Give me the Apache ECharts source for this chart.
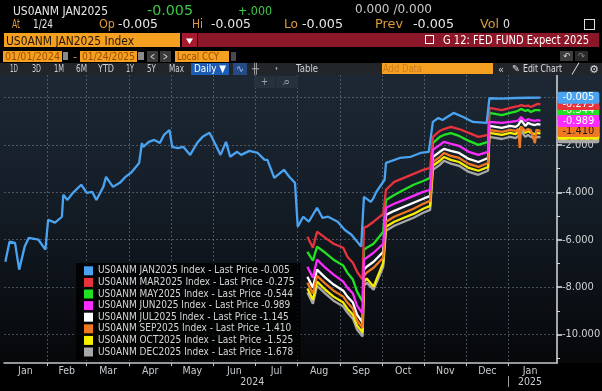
<!DOCTYPE html>
<html><head><meta charset="utf-8">
<script src="https://cdn.jsdelivr.net/npm/echarts@6/dist/echarts.min.js"></script>
<style>
html,body{margin:0;padding:0;background:#000;}
#wrap{position:relative;width:602px;height:391px;overflow:hidden;background:#000;}
#plotbg{position:absolute;left:0;top:75px;width:602px;height:288px;background:linear-gradient(to bottom,#1d2834 0%,#151e28 40%,#0b0f14 80%,#06080a 100%);}
#chart{position:absolute;left:0;top:0;width:602px;height:391px;}
#hdr{position:absolute;left:0;top:0;width:602px;height:391px;pointer-events:none;}
.b{position:absolute;}
.t{position:absolute;white-space:nowrap;transform-origin:0 50%;line-height:1;font-family:'DejaVu Sans',sans-serif;}
</style></head>
<body><div id="wrap"><div id="plotbg"></div><div id="chart"></div><div id="hdr"></div></div>
<script>
// ---------------- DATA ----------------
const contracts = ['JAN2025','MAR2025','MAY2025','JUN2025','JUL2025','SEP2025','OCT2025','DEC2025'];
const lastPrices = ['-0.005','-0.275','-0.544','-0.989','-1.145','-1.410','-1.525','-1.678'];
const monthLabels = ['Jan','Feb','Mar','Apr','May','Jun','Jul','Aug','Sep','Oct','Nov','Dec','Jan'];
const yearLabels = ['2024','2025'];
const monthBoundaries = ['2024-01-01','2024-02-01','2024-03-01','2024-04-01','2024-05-01','2024-06-01','2024-07-01','2024-08-01','2024-09-01','2024-10-01','2024-11-01','2024-12-01','2025-01-01','2025-02-01'];
const yTickValues = [-10,-8,-6,-4,-2];

const jan25Dates = ['2024-01-02','2024-01-05','2024-01-09','2024-01-12','2024-01-16','2024-01-19','2024-01-26','2024-01-31','2024-02-02','2024-02-07','2024-02-12','2024-02-13','2024-02-16','2024-02-20','2024-02-26','2024-03-01','2024-03-05','2024-03-08','2024-03-13','2024-03-15','2024-03-20','2024-03-25','2024-03-29','2024-04-02','2024-04-05','2024-04-08','2024-04-10','2024-04-11','2024-04-15','2024-04-19','2024-04-23','2024-04-26','2024-04-30','2024-05-02','2024-05-06','2024-05-10','2024-05-15','2024-05-20','2024-05-24','2024-05-29','2024-05-31','2024-06-06','2024-06-10','2024-06-13','2024-06-18','2024-06-21','2024-06-27','2024-07-03','2024-07-08','2024-07-10','2024-07-15','2024-07-22','2024-07-26','2024-07-30','2024-08-01','2024-08-05','2024-08-09','2024-08-15','2024-08-19','2024-08-23','2024-08-30','2024-09-04','2024-09-09','2024-09-16','2024-09-18','2024-09-23','2024-09-25','2024-09-27','2024-10-03','2024-10-04','2024-10-14','2024-10-22','2024-10-29','2024-11-04','2024-11-07','2024-11-11','2024-11-14','2024-11-22','2024-11-29','2024-12-06','2024-12-16','2024-12-18','2024-12-27','2025-01-06','2025-01-15','2025-01-24'];
const jan25 = [-6.93,-6.08,-6.13,-7.26,-6.29,-5.92,-6.00,-6.42,-5.16,-5.28,-5.03,-4.10,-4.32,-4.02,-3.68,-4.02,-3.98,-4.32,-3.77,-3.35,-3.77,-3.60,-3.35,-3.18,-2.97,-2.76,-1.92,-2.08,-1.87,-1.79,-1.92,-1.58,-1.37,-2.08,-2.13,-2.08,-2.42,-1.92,-1.66,-1.49,-1.71,-2.42,-1.87,-2.50,-2.29,-2.42,-2.25,-2.34,-2.63,-2.63,-3.39,-3.05,-3.35,-3.60,-5.45,-5.03,-5.24,-4.65,-5.08,-5.03,-5.24,-5.58,-5.79,-6.29,-4.19,-4.40,-4.23,-3.98,-3.47,-2.76,-2.55,-2.50,-2.34,-2.29,-1.03,-0.86,-0.95,-0.65,-0.82,-1.03,-1.07,-0.03,-0.05,-0.02,-0.01,-0.005];

const laterDates = ['2024-08-08','2024-08-12','2024-08-15','2024-08-21','2024-08-27','2024-09-03','2024-09-06','2024-09-10','2024-09-13','2024-09-17','2024-09-18','2024-09-20','2024-09-25','2024-10-02','2024-10-04','2024-10-10','2024-10-17','2024-10-24','2024-10-31','2024-11-05','2024-11-07','2024-11-12','2024-11-15','2024-11-20','2024-11-26','2024-12-03','2024-12-10','2024-12-17','2024-12-18','2024-12-27','2025-01-02','2025-01-06','2025-01-08','2025-01-09','2025-01-10','2025-01-13','2025-01-15','2025-01-17','2025-01-20','2025-01-21','2025-01-22','2025-01-24'];
const mar25 = [-5.87,-6.34,-5.66,-5.92,-6.17,-6.34,-6.72,-6.97,-7.35,-7.68,-5.49,-5.45,-5.24,-4.91,-3.89,-3.56,-3.39,-3.22,-3.05,-2.97,-1.66,-1.41,-1.33,-1.24,-1.33,-1.49,-1.66,-1.58,-0.44,-0.53,-0.44,-0.38,-0.36,-0.40,-0.32,-0.36,-0.34,-0.40,-0.32,-0.30,-0.27,-0.275];
const may25 = [-6.51,-6.88,-6.29,-6.55,-6.84,-7.09,-7.39,-7.68,-8.19,-8.61,-6.42,-6.34,-6.17,-5.66,-4.32,-4.11,-3.89,-3.68,-3.52,-3.39,-1.92,-1.66,-1.58,-1.50,-1.62,-1.83,-2.00,-1.87,-0.65,-0.74,-0.65,-0.60,-0.55,-0.57,-0.48,-0.57,-0.52,-0.61,-0.53,-0.55,-0.53,-0.544];
const jun25 = [-7.14,-7.60,-6.84,-7.18,-7.47,-7.77,-8.02,-8.27,-8.78,-9.12,-6.84,-6.76,-6.55,-6.17,-4.65,-4.48,-4.32,-4.15,-3.98,-3.89,-2.21,-2.00,-1.87,-1.95,-2.04,-2.29,-2.42,-2.29,-1.03,-1.07,-1.03,-1.00,-0.97,-1.00,-0.82,-1.00,-0.91,-0.95,-0.99,-0.95,-0.95,-0.989];
const jul25 = [-7.56,-8.02,-7.26,-7.60,-7.89,-8.15,-8.40,-8.65,-9.16,-9.49,-7.26,-7.14,-6.93,-6.51,-4.95,-4.78,-4.61,-4.44,-4.27,-4.15,-2.51,-2.29,-2.17,-2.25,-2.34,-2.59,-2.72,-2.55,-1.20,-1.28,-1.20,-1.24,-1.16,-1.20,-0.95,-1.20,-1.07,-1.12,-1.16,-1.12,-1.12,-1.145];
const sep25 = [-7.81,-8.27,-7.52,-7.85,-8.15,-8.40,-8.65,-8.91,-9.41,-9.71,-7.52,-7.39,-7.18,-6.76,-5.24,-5.03,-4.86,-4.69,-4.48,-4.36,-2.72,-2.51,-2.34,-2.46,-2.55,-2.80,-2.93,-2.76,-1.37,-1.45,-1.37,-1.41,-1.33,-2.13,-1.24,-1.41,-1.33,-1.37,-1.92,-1.37,-1.37,-1.41];
const oct25 = [-8.06,-8.53,-7.77,-8.11,-8.40,-8.65,-8.91,-9.16,-9.62,-9.92,-7.77,-7.64,-7.98,-6.97,-5.45,-5.24,-5.07,-4.91,-4.69,-4.57,-2.88,-2.67,-2.51,-2.63,-2.72,-2.97,-3.09,-2.93,-1.49,-1.58,-1.49,-1.54,-1.45,-1.49,-1.24,-1.49,-1.41,-1.49,-1.54,-1.49,-1.49,-1.525];
const dec25 = [-8.23,-8.70,-7.94,-8.27,-8.57,-8.82,-9.07,-9.33,-9.79,-10.08,-7.94,-7.81,-8.11,-7.14,-5.62,-5.41,-5.24,-5.07,-4.86,-4.74,-3.05,-2.84,-2.67,-2.79,-2.88,-3.14,-3.26,-3.09,-1.66,-1.75,-1.66,-1.71,-1.62,-1.66,-1.41,-1.66,-1.58,-1.66,-1.71,-1.66,-1.66,-1.678];

// ---------------- STYLE ----------------
const seriesColors = ['#4aa3f0','#e8323c','#22e022','#ff2cff','#ffffff','#f07820','#f5ee00','#a8a8a8'];
const tagTextColors = ['#ffffff','#ffffff','#ffffff','#ffffff','#000000','#1a1a1a','#000000','#000000'];
const zOrder = [10,7,6,9,5,8,4,3];
const FONT = "'Liberation Sans Narrow','DejaVu Sans Condensed',Roboto,sans-serif";

function dayIndex(s){const p=s.split('-').map(Number);return (Date.UTC(p[0],p[1]-1,p[2])-Date.UTC(2024,0,1))/86400000;}

const bounds = monthBoundaries.map(dayIndex);
const monthTicks = bounds.slice(1,13);
const monthMids = bounds.slice(0,13).map((b,i)=>(b+bounds[i+1])/2);
const yearMids = [(bounds[0]+bounds[12])/2 - 3, monthMids[12]];
const X_MIN = 0, X_MAX = dayIndex('2025-02-05');
const Y_MIN = -11.2, Y_MAX = 0.95;

const datesList = [jan25Dates,laterDates,laterDates,laterDates,laterDates,laterDates,laterDates,laterDates];
const valuesList = [jan25,mar25,may25,jun25,jul25,sep25,oct25,dec25];
const names = contracts.map((c,i)=>'US0ANM '+c+' Index - Last Price '+lastPrices[i]);

const dotted = {color:'rgba(120,132,145,0.55)', type:[2,2], width:1};

const chart = echarts.init(document.getElementById('chart'), null, {renderer:'canvas', width:602, height:391});
chart.setOption({
  animation:false,
  backgroundColor:'transparent',
  grid:{left:4, right:45, top:75, bottom:28, containLabel:false, outerBoundsMode:'none'},
  legend:{
    orient:'vertical', left:76, top:263, padding:[2,6,2,8], itemWidth:9, itemHeight:9, itemGap:0,
    icon:'rect', selectedMode:false, backgroundColor:'rgba(0,0,0,0.82)',
    textStyle:{color:'#d6d6d6', fontSize:10, lineHeight:11.6, fontFamily:FONT},
    data:names
  },
  xAxis:[{
    type:'value', min:X_MIN, max:X_MAX, position:'bottom',
    axisLine:{show:true, onZero:false, lineStyle:{color:'#c4c8cc', width:1.5}},
    axisTick:{show:true, customValues:monthTicks, length:3, lineStyle:{color:'#c4c8cc'}},
    axisLabel:{customValues:monthMids, margin:3, color:'#c8ccd0', fontSize:10.5, fontFamily:FONT,
      formatter:v=>monthLabels[monthMids.findIndex(m=>Math.abs(m-v)<0.01)]},
    splitLine:{show:true, lineStyle:dotted}
  },{
    type:'value', min:X_MIN, max:X_MAX, position:'bottom', offset:13,
    axisLine:{show:false, onZero:false},
    axisTick:{show:true, customValues:[bounds[12]], length:11, lineStyle:{color:'#9aa0a6'}},
    axisLabel:{customValues:yearMids, margin:1, color:'#c8ccd0', fontSize:10.5, fontFamily:FONT,
      formatter:v=>yearLabels[yearMids.findIndex(m=>Math.abs(m-v)<0.01)]},
    splitLine:{show:false}
  }],
  yAxis:[{
    type:'value', min:Y_MIN, max:Y_MAX, position:'right',
    axisLine:{show:true, onZero:false, lineStyle:{color:'#d8dadc', width:1.5}},
    axisTick:{show:true, customValues:[-10,-8,-6,-4,-2,0], length:5, lineStyle:{color:'#e4e4e4', width:1.5}},
    axisLabel:{customValues:yTickValues, margin:5, color:'#d0d2d4', fontSize:11, fontFamily:FONT, formatter:v=>v.toFixed(3)},
    splitLine:{show:true, lineStyle:dotted}
  },{
    type:'value', min:Y_MIN, max:Y_MAX, position:'right', offset:0,
    axisLine:{show:false, onZero:false},
    axisTick:{show:true, customValues:[-11,-9,-7,-5,-3,-1], length:3, lineStyle:{color:'#d8d8d8'}},
    axisLabel:{show:false}, splitLine:{show:false}
  }],
  series: valuesList.map((vals,i)=>({
    name:names[i], type:'line', xAxisIndex:0, yAxisIndex:0, symbol:'none', showSymbol:false,
    z:zOrder[i],
    data:datesList[i].map((d,j)=>[dayIndex(d), vals[j]]),
    lineStyle:{color:seriesColors[i], width:2.3}, itemStyle:{color:seriesColors[i]},
    emphasis:{disabled:true},
    endLabel:{show:true, formatter:lastPrices[i], distance:17, backgroundColor:seriesColors[i],
      color:tagTextColors[i], fontSize:11, fontFamily:FONT, padding:[1,5,0,5], borderRadius:2}
  }))
});

// ---------------- HEADER (terminal chrome) ----------------
const hdr = document.getElementById('hdr');
function box(x,y,w,h,c,extra){const d=document.createElement('div');d.className='b';d.style.cssText=`left:${x}px;top:${y}px;width:${w}px;height:${h}px;background:${c};${extra||''}`;hdr.appendChild(d);}
function txt(s,x,yc,size,color,w,weight){const e=document.createElement('span');e.className='t';e.textContent=s;
  e.style.left=x+'px';e.style.fontSize=size+'px';e.style.color=color;if(weight)e.style.fontWeight=weight;hdr.appendChild(e);
  const r=e.getBoundingClientRect();e.style.top=(yc-r.height/2)+'px';if(w)e.style.transform='scaleX('+(w/r.width)+')';}
const OR='#f5a020', LAB='#dc9b3e', WH='#e6e6e6';
[[4,33,176,14,OR],[182,33,15,14,'#a8182e'],[198,33,401,14,'#8c1729'],
 [3,51,59,11,OR],[63,52,5,8,'#8a8a8a'],[80,51,57,11,OR],[138,52,6,8,'#8a8a8a'],
 [147,51,11,11,'#3a3a3a'],[160,51,11,11,'#3a3a3a'],[175,51,54,11,OR],[231,52,5,9,'#4a4a4a'],
 [560,51,13,10,'#3d3d3d'],[575,51,13,10,'#2a2a2a'],
 [0,63,602,12,'#22262b'],[191,63,38,12,'#1d5cb5'],[233,63,14,12,'#254a85'],[382,63,111,11,OR],
 [254,76,21,12,'#27313b'],[276,76,22,12,'#27313b']].forEach(b=>box(...b));
box(425,35,7,7,'transparent','border:1.5px solid #fff;');
box(584,19,9,9,'transparent','border:1.5px solid #ddd;');
[['US0ANM JAN2025',13,10,13,WH,95],['-0.005',147,10,14,'#3cc846',46],['+.000',238,10,13,'#3cc846',34],['0.000 /0.000',355,9,12,'#c8c8c8',77],
 ['At',12,24,12,LAB,8],['1/24',33,24,12,WH,20],['Op',99,24,12,LAB,16],['-0.005',118,24,12,WH,40],
 ['Hi',192,24,12,LAB,11],['-0.005',211,24,12,WH,40],['Lo',284,24,12,LAB,14],['-0.005',302,24,12,WH,41],
 ['Prev',375,24,12,LAB,28],['-0.005',413,24,12,WH,41],['Vol',480,24,12,LAB,19],['0',503,24,12,WH,7],
 ['US0ANM JAN2025 Index',6,40,13,'#22160a',128],['▾',186,40,11,'#fff',7],['G 12: FED FUND Expect 2025',443,40,12,'#ffffff',146],
 ['01/01/2024',5,56.5,11,'#9a4d00',55],['-',73,56.5,11,LAB,4],['01/24/2025',82,56.5,11,'#9a4d00',53],
 ['<',150,56.5,10,'#ddd',5],['>',163,56.5,10,'#ddd',5],['Local CCY',177,56.5,11,'#9a4d00',42],
 ['↶',563,56,9,'#ddd',7],['↷',578,56,9,'#888',7],
 ['1D',10,69,10,'#cfd2d5',8],['3D',32,69,10,'#cfd2d5',9],['1M',54,69,10,'#cfd2d5',10],['6M',76,69,10,'#cfd2d5',11],
 ['YTD',98,69,10,'#cfd2d5',16],['1Y',126,69,10,'#cfd2d5',8],['5Y',147,69,10,'#cfd2d5',9],['Max',169,69,10,'#cfd2d5',15],
 ['Daily ▼',194,69,10,'#ffffff',32],['∿',236,69,10,'#9cc4ff',8],['╫',252,69,10,'#aaa',7],['•',275,69,10,'#aaa',3],
 ['Table',296,69,10,'#cfd2d5',22],['Add Data',383,69,10,'#c97a1e',39],['«',498,69,11,'#ccc',6],['✎',512,69,10,'#ddd',8],
 ['Edit Chart',523,69,10,'#ddd',39],['╱',572,69,10,'#ddd',7],['⚙',589,69,11,'#ddd',10],
 ['+',261,82,10,'#9aa4ae',7],['⌕',283,82,10,'#9aa4ae',8]].forEach(t=>txt(...t));
</script></body></html>
